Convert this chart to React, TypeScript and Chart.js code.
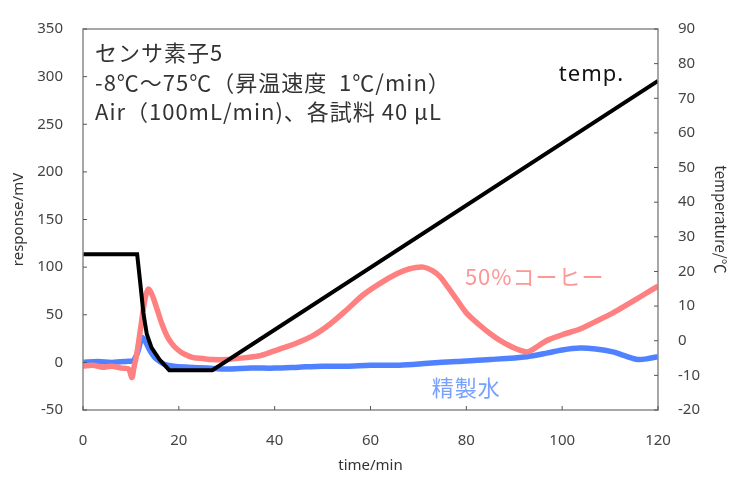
import { useEffect, useRef } from 'react';
import { Chart, registerables } from 'chart.js';

Chart.register(...registerables);

// temperature (right axis, ℃)
const tempTime = [0, 11.3, 12.0, 12.6, 13.3, 14.3, 16.0, 18.0, 27.0, 120];
const tempValues = [25, 25, 16, 8, 2, -2, -5.5, -8.5, -8.5, 75];

// 50% coffee response (mV)
const coffeeTime = [0, 2, 4, 6, 8, 9.5, 10.2, 10.6, 11.2, 12, 13, 13.7, 14.5, 15.5, 16.5, 17.5, 18.5, 19.6, 21, 23, 25, 27, 30, 34, 37, 41, 44, 48, 51.5, 55, 58.5, 62, 65.5, 68, 71, 73, 74.5, 76, 78, 80, 82.8, 85, 87, 90, 92.6, 94, 96.8, 100, 103.7, 107, 110.6, 114, 117, 120];
const coffeeValues = [-4, -3, -5, -4, -6, -7, -16, -6, 8, 35, 68, 77, 70, 55, 40, 28, 20, 14, 9, 5, 4, 3, 3, 5, 7, 14, 19, 28, 40, 55, 71, 83, 93, 98, 100, 96, 90, 80, 66, 52, 39, 30, 23, 15, 11, 14, 23, 29, 35, 43, 52, 62, 71, 80];

// purified water response (mV)
const waterTime = [0, 3, 6, 9, 10.5, 11.5, 12.3, 13, 14, 15, 16, 17, 19, 22, 26, 30, 35, 40, 45, 50, 55, 60, 66, 72, 78, 85, 92.6, 97, 100, 103.7, 107, 110.6, 113, 115.8, 118, 120];
const waterValues = [0, 1, 0, 1, 2, 12, 26, 22, 12, 5, 1, -2, -4, -5, -6, -7, -6, -6, -5, -4, -4, -3, -3, -1, 1, 3, 6, 10, 13, 15, 14, 11, 7, 3, 4, 6];

const xTicks = [0, 20, 40, 60, 80, 100, 120];
const leftTicks = [-50, 0, 50, 100, 150, 200, 250, 300, 350];
const rightTicks = [-20, -10, 0, 10, 20, 30, 40, 50, 60, 70, 80, 90];

const noteLines = ['センサ素子5', '-8℃～75℃（昇温速度  1℃/min）', 'Air（100mL/min)、各試料 40 μL'];
const tempLabel = 'temp.';
const coffeeLabel = '50%コーヒー';
const waterLabel = '精製水';

const pairs = (xs: number[], ys: number[]) => xs.map((x, i) => ({ x, y: ys[i] }));

const CJK = '"Noto Sans CJK JP", "Noto Sans", sans-serif';
const LAT = '"Noto Sans", "DejaVu Sans", sans-serif';

const framePlugin = {
  id: 'frame',
  afterDraw(chart: any) {
    const { ctx, chartArea: a, scales } = chart;
    ctx.save();
    ctx.strokeStyle = '#8a8a8a';
    ctx.lineWidth = 1.5;
    ctx.strokeRect(a.left, a.top, a.right - a.left, a.bottom - a.top);
    ctx.strokeStyle = '#555';
    ctx.lineWidth = 1;
    ctx.beginPath();
    for (const v of xTicks) {
      const px = scales.x.getPixelForValue(v);
      ctx.moveTo(px, a.bottom);
      ctx.lineTo(px, a.bottom - 4);
    }
    for (const v of leftTicks) {
      const py = scales.y.getPixelForValue(v);
      ctx.moveTo(a.left, py);
      ctx.lineTo(a.left + 4, py);
    }
    for (const v of rightTicks) {
      const py = scales.y2.getPixelForValue(v);
      ctx.moveTo(a.right, py);
      ctx.lineTo(a.right - 4, py);
    }
    ctx.stroke();

    ctx.textBaseline = 'middle';
    ctx.textAlign = 'left';
    ctx.fillStyle = '#333';
    ctx.font = `22px ${CJK}`;
    try { (ctx as any).letterSpacing = '1px'; } catch (e) { /* ignore */ }
    noteLines.forEach((t, i) => ctx.fillText(t, a.left + 12, a.top + 24 + i * 29.5));
    ctx.fillStyle = '#111';
    ctx.font = `22px ${LAT}`;
    ctx.fillText(tempLabel, scales.x.getPixelForValue(99.3), scales.y2.getPixelForValue(76.8));
    ctx.fillStyle = 'rgb(255,150,150)';
    ctx.font = `22px ${CJK}`;
    ctx.fillText(coffeeLabel, scales.x.getPixelForValue(79.7), scales.y.getPixelForValue(90));
    ctx.fillStyle = 'rgb(120,160,255)';
    ctx.fillText(waterLabel, scales.x.getPixelForValue(72.8), scales.y.getPixelForValue(-27));
    ctx.restore();
  },
};

export default function App() {
  const ref = useRef<HTMLCanvasElement | null>(null);

  useEffect(() => {
    document.body.style.margin = '0';
    if (!ref.current) return;
    const tickFont = { family: LAT, size: 15 };
    const chart = new Chart(ref.current, {
      type: 'line',
      data: {
        datasets: [
          {
            label: 'temp.',
            data: pairs(tempTime, tempValues),
            yAxisID: 'y2',
            borderColor: '#000',
            borderWidth: 4,
            pointRadius: 0,
            tension: 0,
          },
          {
            label: '50%コーヒー',
            data: pairs(coffeeTime, coffeeValues),
            yAxisID: 'y',
            borderColor: 'rgb(255,128,128)',
            borderWidth: 5.5,
            pointRadius: 0,
            tension: 0.3,
          },
          {
            label: '精製水',
            data: pairs(waterTime, waterValues),
            yAxisID: 'y',
            borderColor: 'rgb(80,130,255)',
            borderWidth: 5.5,
            pointRadius: 0,
            tension: 0.3,
          },
        ],
      },
      options: {
        animation: false,
        responsive: false,
        maintainAspectRatio: false,
        layout: { padding: { top: 20, left: 0, right: 0, bottom: 0 } },
        plugins: { legend: { display: false }, tooltip: { enabled: false } },
        scales: {
          x: {
            type: 'linear',
            min: 0,
            max: 120,
            afterBuildTicks: (s: any) => { s.ticks = xTicks.map((v) => ({ value: v })); },
            afterFit: (s: any) => { s.height = 70; },
            grid: { display: false, drawTicks: false },
            border: { display: false },
            ticks: { font: tickFont, color: '#444', padding: 22, maxRotation: 0 },
            title: { display: true, text: 'time/min', font: { family: LAT, size: 15 }, color: '#333', padding: { top: 0, bottom: 5 } },
          },
          y: {
            type: 'linear',
            position: 'left',
            min: -50,
            max: 350,
            afterBuildTicks: (s: any) => { s.ticks = leftTicks.map((v) => ({ value: v })); },
            afterFit: (s: any) => { s.width = 83; },
            grid: { display: false, drawTicks: false },
            border: { display: false },
            ticks: { font: tickFont, color: '#444', padding: 20 },
            title: { display: true, text: 'response/mV', font: { family: LAT, size: 15 }, color: '#333', padding: { top: 10, bottom: 0 } },
          },
          y2: {
            type: 'linear',
            position: 'right',
            min: -20,
            max: 90,
            afterBuildTicks: (s: any) => { s.ticks = rightTicks.map((v) => ({ value: v })); },
            afterFit: (s: any) => { s.width = 75; },
            grid: { display: false, drawTicks: false },
            border: { display: false },
            ticks: { font: tickFont, color: '#444', padding: 20 },
            title: { display: true, text: 'temperature/℃', font: { family: CJK, size: 15 }, color: '#333', padding: { top: 3, bottom: 0 } },
          },
        },
      },
      plugins: [framePlugin],
    } as any);
    return () => chart.destroy();
  }, []);

  return (
    <div style={{ position: 'absolute', left: 0, top: 0, width: 733, height: 480 }}>
      <canvas ref={ref} width={733} height={480} style={{ width: 733, height: 480 }} />
    </div>
  );
}
